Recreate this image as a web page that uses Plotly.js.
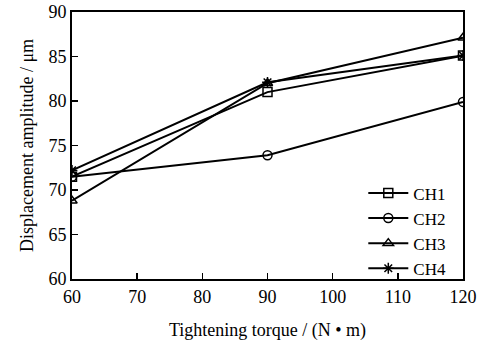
<!DOCTYPE html>
<html><head><meta charset="utf-8">
<script src="https://cdn.plot.ly/plotly-3.0.1.min.js"></script>
<style>html,body{margin:0;padding:0;background:#fff}</style>
</head><body>
<div id="chart" style="width:485px;height:345px"></div>
<script>
const torque = [60, 90, 120];
const ch1 = [71.5, 81.0, 85.1];
const ch2 = [71.5, 73.9, 79.9];
const ch3 = [68.8, 82.0, 87.1];
const ch4 = [72.2, 82.1, 85.1];
const names = ['CH1', 'CH2', 'CH3', 'CH4'];
const series = [ch1, ch2, ch3, ch4];
const symbols = ['square-open', 'circle-open', 'triangle-up-open', 'asterisk-open'];
const xTicks = [60, 70, 80, 90, 100, 110, 120];
const yTicks = [60, 65, 70, 75, 80, 85, 90];

const traces = series.map((s, i) => ({
  x: torque, y: s, name: names[i], type: 'scatter', mode: 'lines+markers',
  line: {color: '#000', width: 2},
  marker: {symbol: symbols[i], size: 9, color: '#000', line: {color: '#000', width: 1.5}}
}));

const fam = 'Liberation Serif, serif';
const font = {family: fam, size: 18, color: '#000'};
const layout = {
  width: 485, height: 345,
  margin: {l: 72, r: 22, t: 12, b: 66},
  paper_bgcolor: '#fff', plot_bgcolor: '#fff',
  font: font,
  showlegend: true,
  legend: {x: 0.745, y: 0.388, xanchor: 'left', yanchor: 'top', bgcolor: 'rgba(0,0,0,0)',
           font: {family: fam, size: 17, color: '#000'}, tracegroupgap: 0, itemwidth: 40},
  xaxis: {
    range: [60, 120], tickvals: xTicks, ticktext: xTicks.map(String),
    ticks: 'inside', ticklen: 6, tickwidth: 1.5, tickcolor: '#000',
    showline: true, linecolor: '#000', linewidth: 2, mirror: true,
    showgrid: false, zeroline: false,
    tickfont: {family: fam, size: 18, color: '#000'},
    title: {text: 'Tightening torque / (N • m)', font: {family: fam, size: 18, color: '#000'}, standoff: 18}
  },
  yaxis: {
    range: [60, 90], tickvals: yTicks, ticktext: yTicks.map(String),
    ticks: 'inside', ticklen: 6, tickwidth: 1.5, tickcolor: '#000',
    showline: true, linecolor: '#000', linewidth: 2, mirror: true,
    showgrid: false, zeroline: false,
    tickfont: {family: fam, size: 18, color: '#000'},
    title: {text: 'Displacement amplitude / μm', font: {family: fam, size: 18, color: '#000'}, standoff: 10}
  }
};
Plotly.newPlot('chart', traces, layout, {displayModeBar: false, staticPlot: true});
</script>
</body></html>
